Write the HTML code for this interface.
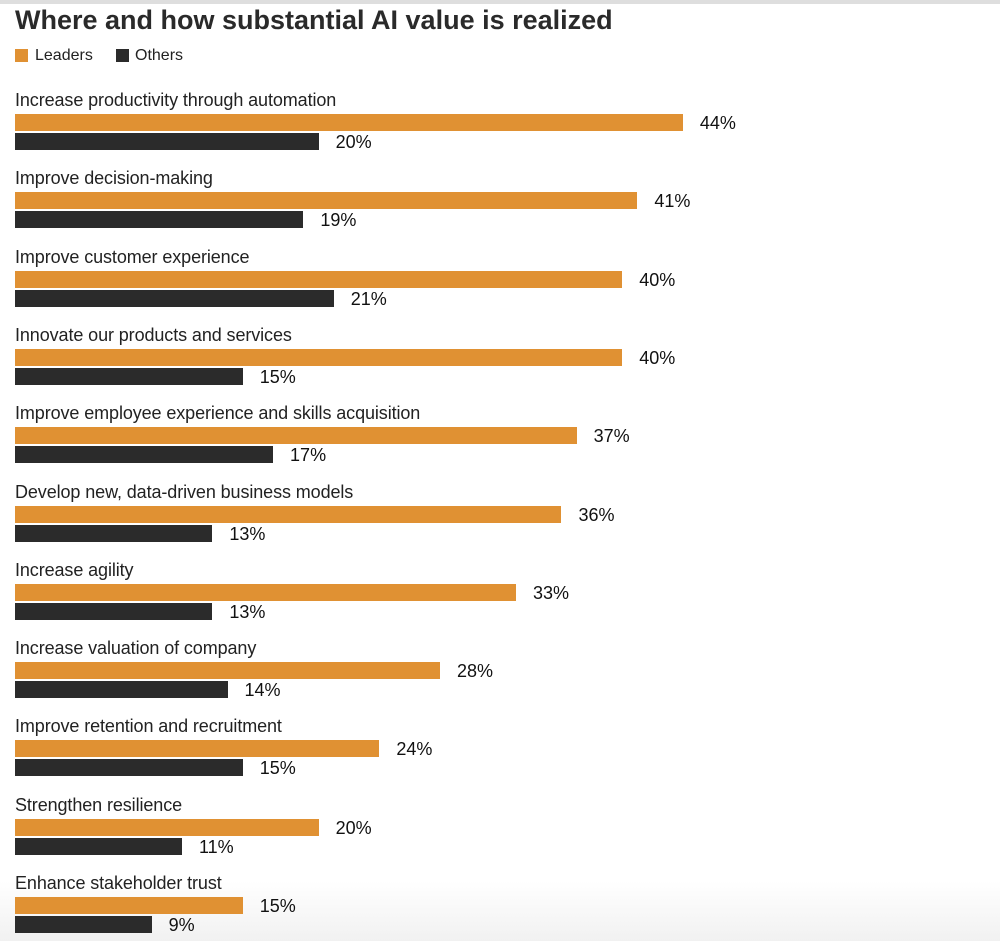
<!DOCTYPE html>
<html><head><style>
body{margin:0;width:1000px;height:941px;background:#fff;position:relative;overflow:hidden;font-family:"Liberation Sans",Arial,sans-serif;color:#222}
.top{position:absolute;left:0;top:0;width:1000px;height:4px;background:#dedede}
.bot{position:absolute;left:0;bottom:0;width:1000px;height:60px;background:linear-gradient(#fff,#f1f1f1)}
h1{position:absolute;left:15px;top:5px;margin:0;font-size:27px;font-weight:bold;color:#2a2a2a;letter-spacing:0px}
.lg{position:absolute;top:47px;font-size:16px;line-height:18px}
.sq{position:absolute;width:13px;height:13px;top:49px}
.lab{position:absolute;left:15px;font-size:18px;line-height:20px;color:#222;letter-spacing:-0.1px}
.bar{position:absolute;left:15px;height:17px}
.o{background:#e09133}.d{background:#2b2b2b}
.v{position:absolute;font-size:18px;line-height:18px;color:#111}
</style></head><body>
<div class="top"></div><div class="bot"></div>
<h1>Where and how substantial AI value is realized</h1>
<div class="sq o" style="left:15px"></div><div class="lg" style="left:35px">Leaders</div>
<div class="sq d" style="left:116px"></div><div class="lg" style="left:135px">Others</div>
<div id="c"></div>
<script>
var d=[["Increase productivity through automation",44,20],["Improve decision-making",41,19],["Improve customer experience",40,21],["Innovate our products and services",40,15],["Improve employee experience and skills acquisition",37,17],["Develop new, data-driven business models",36,13],["Increase agility",33,13],["Increase valuation of company",28,14],["Improve retention and recruitment",24,15],["Strengthen resilience",20,11],["Enhance stakeholder trust",15,9]];
var h="",s=15.18;
d.forEach(function(r,i){var y=114+78.3*i;
h+='<div class="lab" style="top:'+(y-24)+'px">'+r[0]+'</div>';
var w1=r[1]*s,w2=r[2]*s;
h+='<div class="bar o" style="top:'+y+'px;width:'+w1+'px"></div>';
h+='<div class="v" style="top:'+(y+0)+'px;left:'+(15+w1+17)+'px">'+r[1]+'%</div>';
h+='<div class="bar d" style="top:'+(y+19)+'px;width:'+w2+'px"></div>';
h+='<div class="v" style="top:'+(y+19)+'px;left:'+(15+w2+17)+'px">'+r[2]+'%</div>';});
document.getElementById("c").innerHTML=h;
</script>
</body></html>
